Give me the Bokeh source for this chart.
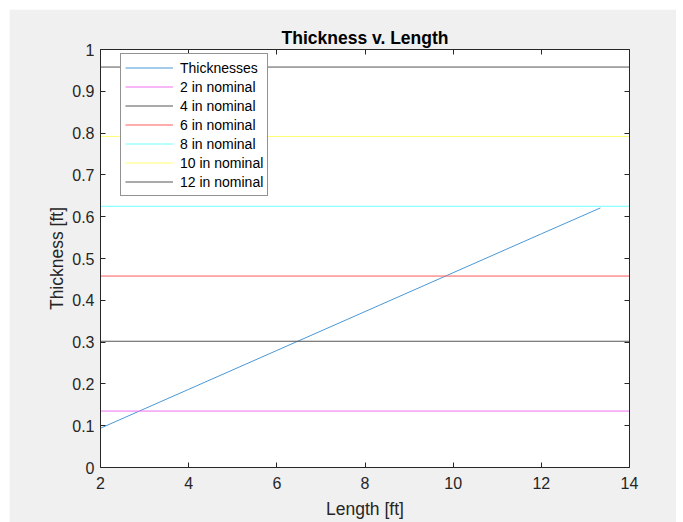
from bokeh.plotting import figure
from bokeh.layouts import column, row
from bokeh.models import (LinearAxis, Range1d, FixedTicker, CustomJSTickFormatter,
                          Legend, LegendItem, Spacer)
from bokeh.embed import file_html
from bokeh.resources import INLINE

# ---- data ----
lengths = [2, 4, 6, 8, 10, 12, 13.34]
thicknesses = [0.094, 0.187, 0.280, 0.373, 0.466, 0.559, 0.621]

nominal_labels = ["2 in nominal", "4 in nominal", "6 in nominal",
                  "8 in nominal", "10 in nominal", "12 in nominal"]
nominal_thickness = [0.135, 0.302, 0.458, 0.625, 0.792, 0.958]
nominal_colors = ["#f070f0", "#555555", "#ff5a5a", "#70ffff", "#ffff70", "#555555"]

x_ticks = [2, 4, 6, 8, 10, 12, 14]
y_ticks = [0, 0.1, 0.2, 0.3, 0.4, 0.5, 0.6, 0.7, 0.8, 0.9, 1]
y_tick_labels = ["0", "0.1", "0.2", "0.3", "0.4", "0.5", "0.6", "0.7", "0.8", "0.9", "1"]
x_min, x_max = x_ticks[0], x_ticks[-1]

FONT = "Liberation Sans"
AX = "#262626"

p = figure(width=667, height=513, output_backend="svg", toolbar_location=None,
           x_range=Range1d(x_min, x_max), y_range=Range1d(y_ticks[0], y_ticks[-1]),
           min_border_left=91, min_border_right=47, min_border_top=40, min_border_bottom=55)
p.border_fill_color = "#f0f0f0"
p.background_fill_color = "white"
p.outline_line_color = None
p.grid.visible = False

p.title.text = "Thickness v. Length"
p.title.align = "center"
p.title.text_font = FONT
p.title.text_font_size = "17.5px"
p.title.text_font_style = "bold"
p.title.text_color = "black"
p.title.standoff = 4

renderers = []
r0 = p.line(lengths, thicknesses, line_color="#4a98d6", line_width=1)
renderers.append(r0)
for val, col in zip(nominal_thickness, nominal_colors):
    r = p.line([x_min, x_max], [val, val], line_color=col, line_width=1)
    renderers.append(r)

def style_axis(ax, labels=True):
    ax.axis_line_color = AX
    ax.axis_line_width = 1
    ax.major_tick_line_color = AX
    ax.major_tick_in = 5
    ax.major_tick_out = 0
    ax.minor_tick_line_color = None
    ax.major_label_text_font = FONT
    ax.major_label_text_color = AX
    ax.major_label_text_font_size = "16px"
    ax.axis_label_text_font = FONT
    ax.axis_label_text_font_size = "17.5px"
    ax.axis_label_text_font_style = "normal"
    ax.axis_label_text_color = AX
    if not labels:
        ax.formatter = CustomJSTickFormatter(code="return ''")
        ax.major_label_text_font_size = "0px"
        ax.major_label_standoff = 0

xa = p.xaxis[0]
xa.ticker = FixedTicker(ticks=x_ticks)
xa.axis_label = "Length [ft]"
style_axis(xa)
xa.major_label_standoff = 9
xa.axis_label_standoff = 7

ya = p.yaxis[0]
ya.ticker = FixedTicker(ticks=y_ticks)
ya.major_label_overrides = {t: s for t, s in zip(y_ticks, y_tick_labels)}
ya.axis_label = "Thickness [ft]"
style_axis(ya)
ya.major_label_standoff = 6
ya.axis_label_standoff = 2

top = LinearAxis(ticker=FixedTicker(ticks=x_ticks))
style_axis(top, labels=False)
p.add_layout(top, "above")
right = LinearAxis(ticker=FixedTicker(ticks=y_ticks))
style_axis(right, labels=False)
p.add_layout(right, "right")

items = [LegendItem(label="Thicknesses", renderers=[renderers[0]])]
for lab, r in zip(nominal_labels, renderers[1:]):
    items.append(LegendItem(label=lab, renderers=[r]))
legend = Legend(items=items, location=(20, 271))
legend.label_text_font = FONT
legend.label_text_font_size = "14px"
legend.label_text_color = "black"
legend.glyph_width = 48
legend.glyph_height = 19
legend.label_height = 19
legend.spacing = 0
legend.padding = 4
legend.margin = 0
legend.label_standoff = 7
legend.border_line_color = AX
legend.border_line_width = 1
legend.background_fill_color = "white"
legend.background_fill_alpha = 1
p.add_layout(legend, "center")

page = column(Spacer(height=9), row(Spacer(width=9), p))
open("out.html", "w").write(file_html(page, INLINE))
